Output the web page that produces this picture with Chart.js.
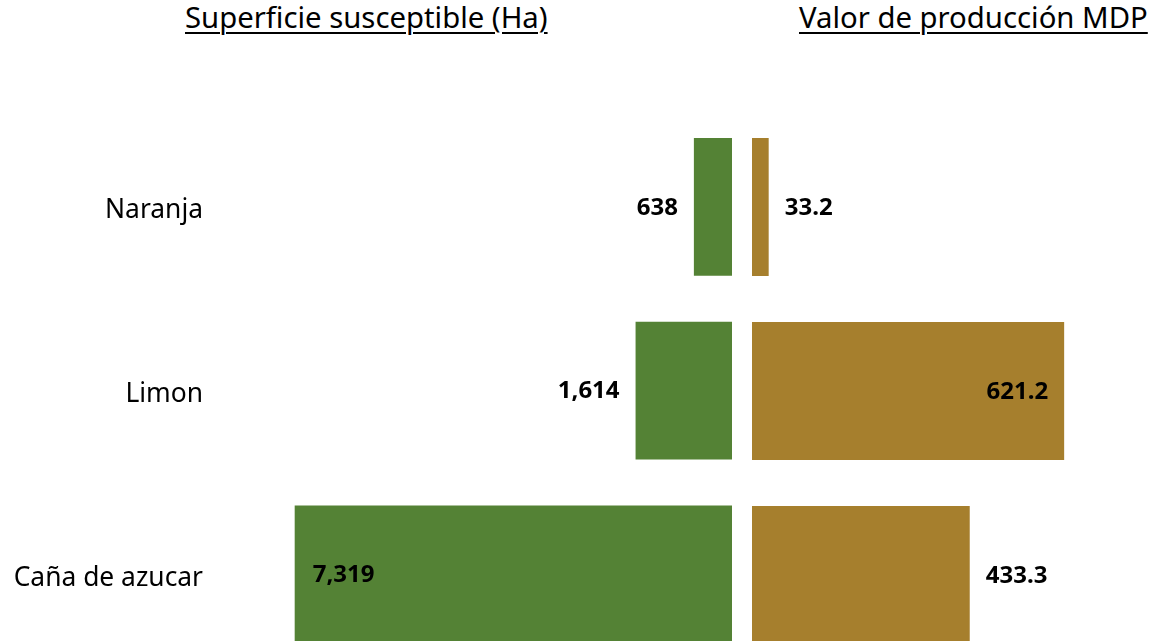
<!DOCTYPE html>
<html>
<head>
<meta charset="utf-8">
<script src="https://cdn.jsdelivr.net/npm/chart.js@4/dist/chart.umd.min.js"></script>
<style>
  html, body { margin: 0; padding: 0; background: #fff; overflow: hidden; width: 1169px; height: 641px; }
  #wrap { position: relative; width: 1169px; height: 641px; overflow: hidden; }
  canvas { position: absolute; top: 0; }
  .title { position: absolute; top: 3px; font-family: "Noto Sans", "Open Sans", sans-serif; font-size: 29.3px; line-height: 29px; color: #000; text-decoration: underline; text-decoration-thickness: 2px; text-underline-offset: 4px; white-space: nowrap; }
</style>
</head>
<body>
<div id="wrap">
  <div class="title" id="t1" style="left:185px;"></div>
  <div class="title" id="t2" style="left:799px;"></div>
  <canvas id="left" width="742" height="733" style="left:0px;"></canvas>
  <canvas id="right" width="427" height="700" style="left:742px;"></canvas>
</div>
<script>
const categories = ["Naranja", "Limon", "Caña de azucar"];
const superficieHa = [638, 1614, 7319];
const valorMDP = [33.2, 621.2, 433.3];
const titles = ["Superficie susceptible (Ha)", "Valor de producción MDP"];

document.getElementById('t1').textContent = titles[0];
document.getElementById('t2').textContent = titles[1];

const FONT = '"Noto Sans", "Open Sans", sans-serif';

const valueLabels = {
  id: 'valueLabels',
  afterDatasetsDraw(chart, args, opts) {
    const ctx = chart.ctx;
    const ds = chart.data.datasets[0];
    const meta = chart.getDatasetMeta(0);
    const max = Math.max(...ds.data);
    ctx.save();
    ctx.font = 'bold 24px ' + FONT;
    ctx.fillStyle = '#000';
    ctx.textBaseline = 'middle';
    meta.data.forEach((bar, i) => {
      const v = ds.data[i];
      const txt = opts.format(v);
      const inside = v === max;
      let x, align;
      if (opts.dir < 0) {
        if (inside) { x = bar.x + 18; align = 'left'; } else { x = bar.x - 16; align = 'right'; }
      } else {
        if (inside) { x = bar.x - 16; align = 'right'; } else { x = bar.x + 16; align = 'left'; }
      }
      ctx.textAlign = align;
      ctx.fillText(txt, x, bar.y + 1);
    });
    ctx.restore();
  }
};

new Chart(document.getElementById('left'), {
  type: 'bar',
  data: {
    labels: categories,
    datasets: [{ data: superficieHa, backgroundColor: '#548235', barPercentage: 0.75, categoryPercentage: 1.0 }]
  },
  options: {
    indexAxis: 'y',
    responsive: false,
    animation: false,
    layout: { padding: { left: 0, right: 10, top: 115, bottom: 0 } },
    plugins: {
      legend: { display: false },
      tooltip: { enabled: false },
      valueLabels: { dir: -1, format: v => v.toLocaleString('en-US') }
    },
    scales: {
      x: { reverse: true, min: 0, max: 8000, display: false },
      y: {
        grid: { display: false, drawTicks: false },
        border: { display: false },
        ticks: { font: { family: FONT, size: 26.4 }, color: '#000', padding: 51, labelOffset: 4 },
        afterFit: s => { s.width = 254; }
      }
    }
  },
  plugins: [valueLabels]
});

new Chart(document.getElementById('right'), {
  type: 'bar',
  data: {
    labels: categories,
    datasets: [{ data: valorMDP, backgroundColor: '#A67F2D', barPercentage: 0.75, categoryPercentage: 1.0 }]
  },
  options: {
    indexAxis: 'y',
    responsive: false,
    animation: false,
    layout: { padding: { left: 10, right: 15, top: 115, bottom: 33 } },
    plugins: {
      legend: { display: false },
      tooltip: { enabled: false },
      valueLabels: { dir: 1, format: v => v.toFixed(1) }
    },
    scales: {
      x: { min: 0, max: 800, display: false },
      y: { display: false }
    }
  },
  plugins: [valueLabels]
});
</script>
</body>
</html>
